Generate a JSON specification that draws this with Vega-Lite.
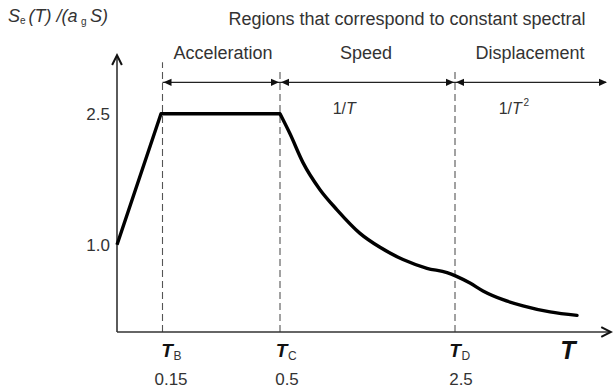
{
  "$schema": "https://vega.github.io/schema/vega-lite/v6.json",
  "width": 613,
  "height": 389,
  "padding": 0,
  "autosize": {"type": "none"},
  "background": "white",
  "config": {
    "view": {"stroke": null},
    "text": {"font": "Liberation Sans", "color": "#333333"}
  },
  "datasets": {
    "curveRise": [
      {"s": 0.0, "v": 1.0},
      {"s": 0.44, "v": 2.5},
      {"s": 1.63, "v": 2.5}
    ],
    "curveDecay": [
      {"s": 1.63, "v": 2.5},
      {"s": 1.73, "v": 2.27},
      {"s": 1.86, "v": 1.94},
      {"s": 2.03, "v": 1.63},
      {"s": 2.2, "v": 1.4},
      {"s": 2.43, "v": 1.13},
      {"s": 2.63, "v": 0.97},
      {"s": 2.86, "v": 0.83},
      {"s": 3.1, "v": 0.73},
      {"s": 3.3, "v": 0.68},
      {"s": 3.39, "v": 0.64},
      {"s": 3.53, "v": 0.56},
      {"s": 3.66, "v": 0.47},
      {"s": 3.86, "v": 0.37},
      {"s": 4.06, "v": 0.3},
      {"s": 4.33, "v": 0.23},
      {"s": 4.6, "v": 0.19}
    ],
    "guides": [
      {"name": "TB", "s": 0.455, "v": 0, "top": 3.09},
      {"name": "TC", "s": 1.63, "v": 0, "top": 2.98},
      {"name": "TD", "s": 3.38, "v": 0, "top": 2.98}
    ],
    "axes": [
      {"s": 0, "s2": 0, "v": 0, "v2": 3.15},
      {"s": 0, "s2": 4.92, "v": 0, "v2": 0}
    ],
    "axisHeads": [
      {"s": 0, "v": 3.17, "dir": "up"},
      {"s": 4.94, "v": 0, "dir": "right"}
    ],
    "regions": [
      {"name": "Acceleration", "s": 0.455, "s2": 1.63, "v": 2.86},
      {"name": "Speed", "s": 1.63, "s2": 3.38, "v": 2.86},
      {"name": "Displacement", "s": 3.38, "s2": 4.89, "v": 2.86}
    ],
    "regionNames": [
      {"name": "Acceleration", "s": 1.06, "v": 3.19},
      {"name": "Speed", "s": 2.49, "v": 3.19},
      {"name": "Displacement", "s": 4.13, "v": 3.19}
    ],
    "regionHeads": [
      {"s": 0.465, "v": 2.86, "dir": "left"},
      {"s": 1.62, "v": 2.86, "dir": "right"},
      {"s": 1.64, "v": 2.86, "dir": "left"},
      {"s": 3.37, "v": 2.86, "dir": "right"},
      {"s": 3.39, "v": 2.86, "dir": "left"},
      {"s": 4.9, "v": 2.86, "dir": "right"}
    ],
    "yTicks": [
      {"label": "2.5", "s": 0, "v": 2.5},
      {"label": "1.0", "s": 0, "v": 1.0}
    ],
    "periodLabels": [
      {"text": "T", "role": "name", "s": 0.5, "v": -0.22},
      {"text": "B", "role": "sub", "s": 0.565, "v": -0.27},
      {"text": "0.15", "role": "value", "s": 0.54, "v": -0.555},
      {"text": "T", "role": "name", "s": 1.645, "v": -0.22},
      {"text": "C", "role": "sub", "s": 1.71, "v": -0.27},
      {"text": "0.5", "role": "value", "s": 1.7, "v": -0.555},
      {"text": "T", "role": "name", "s": 3.38, "v": -0.22},
      {"text": "D", "role": "sub", "s": 3.445, "v": -0.27},
      {"text": "2.5", "role": "value", "s": 3.44, "v": -0.555}
    ],
    "header": [
      {"text": "Regions that correspond to constant spectral", "s": 2.9, "v": 3.574}
    ],
    "yTitle": [
      {"text": "S", "s": -1.09, "v": 3.61, "part": "main"},
      {"text": "e", "s": -0.97, "v": 3.56, "part": "sub"},
      {"text": "(T) /(a", "s": -0.885, "v": 3.61, "part": "main"},
      {"text": "g", "s": -0.36, "v": 3.555, "part": "sub"},
      {"text": "S)", "s": -0.27, "v": 3.61, "part": "main"}
    ],
    "laws": [
      {"pre": "1/", "t": "T", "s": 2.29, "v": 2.56},
      {"pre": "1/", "t": "T", "s": 3.95, "v": 2.56}
    ],
    "lawExp": [
      {"text": "2", "s": 4.065, "v": 2.62}
    ],
    "xTitle": [
      {"text": "T", "s": 4.51, "v": -0.22}
    ]
  },
  "encoding": {
    "x": {"field": "s", "type": "quantitative", "scale": {"domain": [-1.17, 4.96], "nice": false, "zero": false}, "axis": null},
    "y": {"field": "v", "type": "quantitative", "scale": {"domain": [-0.653, 3.803], "nice": false, "zero": false}, "axis": null}
  },
  "layer": [
    {
      "data": {"name": "guides"},
      "mark": {"type": "rule", "color": "#555555", "strokeWidth": 1.1, "strokeDash": [7, 4]},
      "encoding": {"y2": {"field": "top"}}
    },
    {
      "data": {"name": "axes"},
      "mark": {"type": "rule", "color": "#333333", "strokeWidth": 1.6},
      "encoding": {"x2": {"field": "s2"}, "y2": {"field": "v2"}}
    },
    {
      "data": {"name": "axisHeads"},
      "transform": [{"filter": "datum.dir === 'up'"}],
      "mark": {"type": "point", "filled": false, "strokeWidth": 2, "color": "#111111", "opacity": 1, "shape": "M-0.5,1 L0,0 L0.5,1", "size": 380},
      "encoding": {}
    },
    {
      "data": {"name": "axisHeads"},
      "transform": [{"filter": "datum.dir === 'right'"}],
      "mark": {"type": "point", "filled": false, "strokeWidth": 2, "color": "#111111", "opacity": 1, "shape": "M-1,-0.5 L0,0 L-1,0.5", "size": 380},
      "encoding": {}
    },
    {
      "data": {"name": "regions"},
      "mark": {"type": "rule", "color": "#222222", "strokeWidth": 1.3},
      "encoding": {"x2": {"field": "s2"}}
    },
    {
      "data": {"name": "regionHeads"},
      "transform": [{"filter": "datum.dir === 'left'"}],
      "mark": {"type": "point", "filled": true, "color": "#111111", "opacity": 1, "shape": "M0,0 L1,-0.45 L1,0.45 Z", "size": 256},
      "encoding": {}
    },
    {
      "data": {"name": "regionHeads"},
      "transform": [{"filter": "datum.dir === 'right'"}],
      "mark": {"type": "point", "filled": true, "color": "#111111", "opacity": 1, "shape": "M0,0 L-1,-0.45 L-1,0.45 Z", "size": 256},
      "encoding": {}
    },
    {
      "data": {"name": "regionNames"},
      "mark": {"type": "text", "fontSize": 18, "align": "center", "baseline": "middle"},
      "encoding": {"text": {"field": "name"}}
    },
    {
      "data": {"name": "curveRise"},
      "mark": {"type": "line", "color": "#000000", "strokeWidth": 3.4, "strokeJoin": "round", "interpolate": "linear"},
      "encoding": {}
    },
    {
      "data": {"name": "curveDecay"},
      "mark": {"type": "line", "color": "#000000", "strokeWidth": 3.4, "strokeCap": "round", "interpolate": "monotone"},
      "encoding": {}
    },
    {
      "data": {"name": "yTicks"},
      "mark": {"type": "text", "fontSize": 17, "align": "right", "baseline": "middle", "dx": -7, "dy": 1},
      "encoding": {"text": {"field": "label"}}
    },
    {
      "data": {"name": "periodLabels"},
      "transform": [{"filter": "datum.role === 'name'"}],
      "mark": {"type": "text", "fontSize": 19, "fontWeight": "bold", "fontStyle": "italic", "align": "center", "baseline": "middle", "color": "#111111"},
      "encoding": {"text": {"field": "text"}}
    },
    {
      "data": {"name": "periodLabels"},
      "transform": [{"filter": "datum.role === 'sub'"}],
      "mark": {"type": "text", "fontSize": 12, "align": "left", "baseline": "middle"},
      "encoding": {"text": {"field": "text"}}
    },
    {
      "data": {"name": "periodLabels"},
      "transform": [{"filter": "datum.role === 'value'"}],
      "mark": {"type": "text", "fontSize": 17, "align": "center", "baseline": "middle"},
      "encoding": {"text": {"field": "text"}}
    },
    {
      "data": {"name": "header"},
      "mark": {"type": "text", "fontSize": 18, "align": "center", "baseline": "middle"},
      "encoding": {"text": {"field": "text"}}
    },
    {
      "data": {"name": "yTitle"},
      "transform": [{"filter": "datum.part === 'main'"}],
      "mark": {"type": "text", "fontSize": 18, "fontStyle": "italic", "align": "left", "baseline": "middle"},
      "encoding": {"text": {"field": "text"}}
    },
    {
      "data": {"name": "yTitle"},
      "transform": [{"filter": "datum.part === 'sub'"}],
      "mark": {"type": "text", "fontSize": 10, "align": "left", "baseline": "middle"},
      "encoding": {"text": {"field": "text"}}
    },
    {
      "data": {"name": "laws"},
      "mark": {"type": "text", "fontSize": 16, "align": "right", "baseline": "middle"},
      "encoding": {"text": {"field": "pre"}}
    },
    {
      "data": {"name": "laws"},
      "mark": {"type": "text", "fontSize": 16, "fontStyle": "italic", "align": "left", "baseline": "middle"},
      "encoding": {"text": {"field": "t"}}
    },
    {
      "data": {"name": "lawExp"},
      "mark": {"type": "text", "fontSize": 10, "align": "left", "baseline": "middle"},
      "encoding": {"text": {"field": "text"}}
    },
    {
      "data": {"name": "xTitle"},
      "mark": {"type": "text", "fontSize": 25, "fontWeight": "bold", "fontStyle": "italic", "align": "center", "baseline": "middle", "color": "#111111"},
      "encoding": {"text": {"field": "text"}}
    }
  ]
}
